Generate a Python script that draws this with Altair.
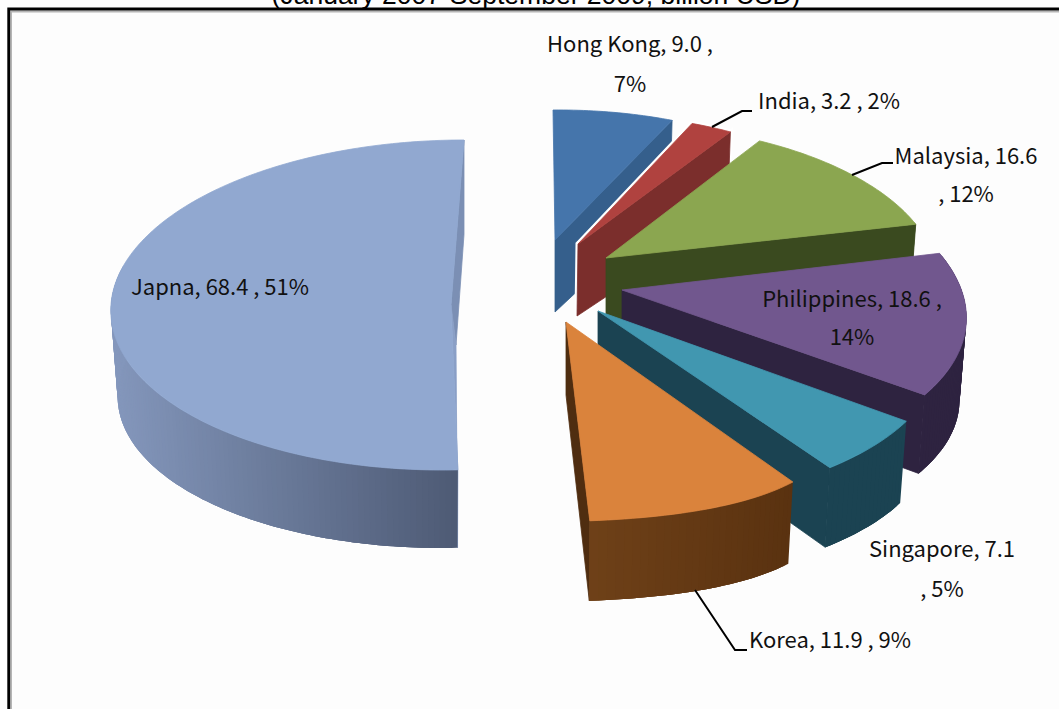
import math
import altair as alt

# Direct investment by source economy, billion USD
names = ["Hong Kong", "India", "Malaysia", "Philippines", "Singapore", "Korea", "Japna"]
values = [9.0, 3.2, 16.6, 18.6, 7.1, 11.9, 68.4]

top_colors = ["#4575AB", "#B0423F", "#8BA650", "#71578E", "#4197B0", "#DA833C", "#91A8D0"]
side_colors = ["#355F8C", "#7B2E2C", "#3A4A1F", "#2E2340", "#1B4352", "#4F2D10", "#7B8FB4"]
rim_left = ["#355F8C", "#7B2E2C", "#3A4A1F", "#2E2340", "#1B4352", "#6F4118", "#8497BC"]
rim_right = ["#355F8C", "#7B2E2C", "#3A4A1F", "#2E2340", "#1B4352", "#5A3210", "#4E5B75"]

# Screen placement of each exploded wedge: apex, radii and skew at its two edges, wall depth
apex = [(555, 240), (578, 244), (606, 258), (622, 290), (598, 311), (566, 322), (451, 305)]
radius_x = [(292, 292), (280, 283), (285, 318), (326, 377), (384, 410), (401, 510), (340, 340)]
radius_y = [(130, 131), (132, 133), (139, 149), (162, 176), (185, 190), (194, 199), (165, 165)]
skew = [(-2, -2), (0, 0), (0, 0), (0, 0), (0, 0), (0, 0), (9, 13)]
depth = [72, 72, 72, 75, 78, 80, 78]
apex_drop = [(0, 72), (-1, 72), (0, 72), (0, 75), (0, 75), (0, 73), (5, 40)]
LOW_X, LOW_Y = 0.98, 0.95
STEPS_PER_DEGREE = 1.0
PIXELS = dict(type="identity", scale=1, translate=[0, 0])


def hex_mix(a, b, t):
    ca = [int(a[i:i + 2], 16) for i in (1, 3, 5)]
    cb = [int(b[i:i + 2], 16) for i in (1, 3, 5)]
    return "#" + "".join(f"{round(p + (q - p) * t):02x}" for p, q in zip(ca, cb))


def polygon(points, fill, width=0.8):
    ring = [list(p) for p in points] + [list(points[0])]
    return {
        "type": "Feature",
        "geometry": {"type": "Polygon", "coordinates": [ring]},
        "properties": {"fill": fill, "stroke": fill, "sw": width},
    }


def line(points):
    return {
        "type": "Feature",
        "geometry": {"type": "LineString", "coordinates": [list(p) for p in points]},
        "properties": {},
    }


def wedge_features(i, a0, a1):
    vx, vy = apex[i]
    rx0, rx1 = radius_x[i]
    ry0, ry1 = radius_y[i]
    sk0, sk1 = skew[i]
    drop_x, drop_y = apex_drop[i]

    def frac(a):
        return (a - a0) / (a1 - a0)

    def upper(a):
        t, r = frac(a), math.radians(a)
        return (vx + (rx0 + (rx1 - rx0) * t) * math.sin(r) + (sk0 + (sk1 - sk0) * t) * math.cos(r),
                vy - (ry0 + (ry1 - ry0) * t) * math.cos(r))

    def lower(a):
        t, r = frac(a), math.radians(a)
        ry = ry0 + (ry1 - ry0) * t
        return (vx + LOW_X * (rx0 + (rx1 - rx0) * t) * math.sin(r) + (sk0 + (sk1 - sk0) * t) * math.cos(r),
                vy - LOW_Y * ry * math.cos(r) + depth[i] + (1 - LOW_Y) * ry)

    n = max(4, int((a1 - a0) * STEPS_PER_DEGREE))
    angles = [a0 + (a1 - a0) * k / n for k in range(n + 1)]
    low_apex = (vx + drop_x, vy + drop_y)

    # only the part of the rim turned towards the viewer is ever seen
    front = [a for a in angles if math.cos(math.radians(a)) < 0.25]
    out = []
    # flat radial walls
    out.append(polygon([upper(a1), (vx, vy), low_apex, lower(a1)], side_colors[i]))
    if i == len(names) - 1:
        out.append(polygon([upper(a0), (vx, vy), low_apex, lower(a0)], "#8A9FC6"))
    # outer rim: overlapping bands painted in turn, so no seams show between them
    if len(front) > 1:
        xs = [upper(a)[0] for a in front]
        xmin, xmax = min(xs), max(xs)
        for k in range(len(front) - 1):
            run = front[k:k + 4]
            f = (upper(front[k])[0] - xmin) / max(xmax - xmin, 1)
            shape = [upper(a) for a in run] + [lower(a) for a in reversed(run)]
            out.append(polygon(shape, hex_mix(rim_left[i], rim_right[i], f), width=0))
    # top face
    out.append(polygon([(vx, vy)] + [upper(a) for a in angles], top_colors[i]))
    return out


total = sum(values)
features = []
start = 0.0
for i, v in enumerate(values):
    end = start + v / total * 360
    parts = wedge_features(i, start, end)
    if names[i] == "India":
        # a thin white edge keeps this narrow wedge apart from its neighbour
        for p in parts:
            halo = dict(p)
            halo["properties"] = {"fill": "#ffffff", "stroke": "#ffffff", "sw": 5}
            features.append(halo)
    features.extend(parts)
    start = end

wedges = alt.Chart(alt.Data(values=features)).mark_geoshape().encode(
    fill=alt.Fill("properties.fill:N", scale=None),
    stroke=alt.Stroke("properties.stroke:N", scale=None),
    strokeWidth=alt.StrokeWidth("properties.sw:Q", scale=None),
).project(**PIXELS)

leaders = [
    line([(712, 127), (742, 111), (752, 111)]),
    line([(852, 175), (882, 163), (893, 163)]),
    line([(695, 590), (735, 650), (747, 650)]),
]
leader_layer = alt.Chart(alt.Data(values=leaders)).mark_geoshape(
    filled=False, stroke="#000000", strokeWidth=2
).project(**PIXELS)

frame_dark = alt.Chart(alt.Data(values=[line([(8.7, 709), (8.7, 9), (1059, 9)])])).mark_geoshape(
    filled=False, stroke="#000000", strokeWidth=2.8
).project(**PIXELS)
frame_soft = alt.Chart(alt.Data(values=[line([(11, 709), (11, 11.4), (1059, 11.4)])])).mark_geoshape(
    filled=False, stroke="#b5b5b5", strokeWidth=2
).project(**PIXELS)

label_rows = [
    {"t": "Hong Kong, 9.0 ,", "x": 630, "y": 45},
    {"t": "7%", "x": 630, "y": 85},
    {"t": "India, 3.2 , 2%", "x": 829, "y": 102},
    {"t": "Malaysia, 16.6", "x": 966, "y": 157},
    {"t": ", 12%", "x": 966, "y": 195},
    {"t": "Japna, 68.4 , 51%", "x": 220, "y": 288},
    {"t": "Philippines, 18.6 ,", "x": 852, "y": 300},
    {"t": "14%", "x": 852, "y": 338},
    {"t": "Singapore, 7.1", "x": 942, "y": 550},
    {"t": ", 5%", "x": 942, "y": 590},
    {"t": "Korea, 11.9 , 9%", "x": 830, "y": 641},
]
labels = alt.Chart(alt.Data(values=label_rows)).mark_text(
    font="Noto Sans CJK KR", fontSize=22, align="center", baseline="middle", color="#111111"
).encode(
    x=alt.X("x:Q", scale=None, axis=None),
    y=alt.Y("y:Q", scale=None, axis=None),
    text="t:N",
)

subtitle = alt.Chart(alt.Data(values=[{"t": "(January 2007-September 2009, billion USD)", "x": 536, "y": 4}])).mark_text(
    font="Liberation Sans", fontSize=26.5, align="center", baseline="alphabetic", color="#000000"
).encode(
    x=alt.X("x:Q", scale=None, axis=None),
    y=alt.Y("y:Q", scale=None, axis=None),
    text="t:N",
)

chart = alt.layer(subtitle, frame_soft, frame_dark, wedges, leader_layer, labels).properties(
    width=1059,
    height=709,
    padding=0,
    autosize=alt.AutoSizeParams(type="none"),
    background="#fdfdfd",
).configure_view(stroke=None)

chart.save("out.html", embed_options={"renderer": "svg", "actions": False})
